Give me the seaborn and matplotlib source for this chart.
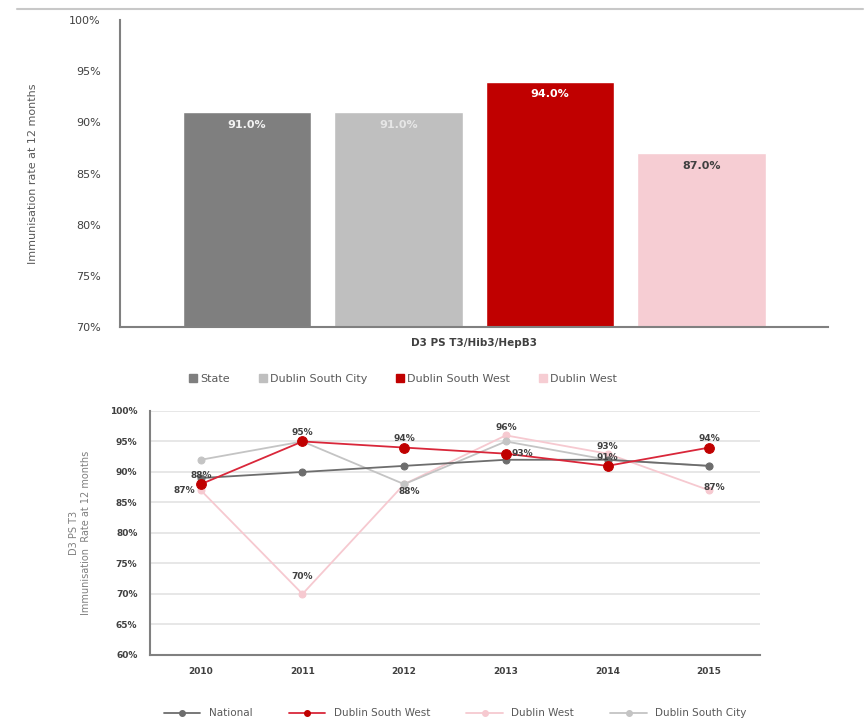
import numpy as np
import pandas as pd
import seaborn as sns
from matplotlib import pyplot as plt
from matplotlib.lines import Line2D
from matplotlib.patches import Patch

# top chart data
bar_groups = ['State', 'Dublin South City', 'Dublin South West', 'Dublin West']
bar_values = [91.0, 91.0, 94.0, 87.0]
bar_colors = ['#7f7f7f', '#bfbfbf', '#c00000', '#f6cdd3']
bar_text_colors = ['#f2f2f2', '#e6e6e6', '#ffffff', '#404040']

# bottom chart data
years = [2010, 2011, 2012, 2013, 2014, 2015]
national = [89, 90, 91, 92, 92, 91]
dublin_south_west = [88, 95, 94, 93, 91, 94]
dublin_west = [87, 70, 88, 96, 93, 87]
dublin_south_city = [92, 95, 88, 95, 92, 91]

sns.set_theme(style='white')
plt.rcParams['font.family'] = ['DejaVu Sans']

fig = plt.figure(figsize=(8.67, 7.22), dpi=100)
fig.add_artist(Line2D([0.02, 0.995], [0.988, 0.988], color='#c8c8c8', lw=1.5))

# ---- bar chart ----
ax1 = fig.add_axes([0.1384, 0.547, 0.817, 0.425])
bar_df = pd.DataFrame({'group': bar_groups, 'value': bar_values})
sns.barplot(data=bar_df, x='group', y='value', hue='group', palette=bar_colors,
            width=0.85, legend=False, ax=ax1, saturation=1)
ax1.set_ylim(70, 100)
ax1.set_xlim(-0.84, 3.84)
ax1.set_yticks(np.arange(70, 101, 5))
ax1.set_yticklabels([f'{v}%' for v in range(70, 101, 5)], fontsize=8, color='#404040')
ax1.set_xticks([])
ax1.set_xlabel('D3 PS T3/Hib3/HepB3', fontsize=7.5, fontweight='bold', color='#404040', labelpad=8)
ax1.set_ylabel('Immunisation rate at 12 months', fontsize=8, color='#595959', labelpad=22)
for i, v in enumerate(bar_values):
    ax1.text(i, v - 0.75, f'{v:.1f}%', ha='center', va='top', fontsize=8,
             fontweight='bold', color=bar_text_colors[i])
for s in ['top', 'right']:
    ax1.spines[s].set_visible(False)
for s in ['left', 'bottom']:
    ax1.spines[s].set_color('#808080')
    ax1.spines[s].set_linewidth(1.5)
ax1.tick_params(axis='y', length=0, pad=14)
handles = [Patch(color=c, label=g) for g, c in zip(bar_groups, bar_colors)]
fig.legend(handles=handles, loc='center', bbox_to_anchor=(0.465, 0.475), ncol=4,
           frameon=False, fontsize=8, handlelength=0.7, handleheight=0.7,
           handletextpad=0.3, columnspacing=2.6, labelcolor='#595959')

# ---- line chart ----
ax2 = fig.add_axes([0.173, 0.0928, 0.7036, 0.338])
line_df = pd.DataFrame({'year': years * 4,
                        'value': national + dublin_south_west + dublin_west + dublin_south_city,
                        'series': ['National'] * 6 + ['Dublin South West'] * 6
                                  + ['Dublin West'] * 6 + ['Dublin South City'] * 6})
line_colors = {'National': '#6d6d6d', 'Dublin South West': '#d9273a',
               'Dublin West': '#f6c9d0', 'Dublin South City': '#c4c4c4'}
marker_colors = {'National': '#6d6d6d', 'Dublin South West': '#c00000',
                 'Dublin West': '#f6c9d0', 'Dublin South City': '#c4c4c4'}
marker_sizes = {'National': 5, 'Dublin South West': 7, 'Dublin West': 5, 'Dublin South City': 5}
order = ['Dublin West', 'Dublin South City', 'National', 'Dublin South West']
for name in order:
    sub = line_df[line_df['series'] == name]
    sns.lineplot(data=sub, x='year', y='value', color=line_colors[name], marker='o',
                 markersize=marker_sizes[name], markerfacecolor=marker_colors[name],
                 markeredgecolor=marker_colors[name], linewidth=1.3, ax=ax2)

label_kw = dict(fontsize=6.5, fontweight='bold', color='#404040')
for x, v in zip(years, dublin_south_west):
    if x == 2013:
        ax2.text(x + 0.06, v, f'{v}%', ha='left', va='center', **label_kw)
    else:
        ax2.text(x, v + 0.7, f'{v}%', ha='center', va='bottom', **label_kw)
for x, v in zip(years, dublin_west):
    if x == 2010:
        ax2.text(x - 0.06, v, f'{v}%', ha='right', va='center', **label_kw)
    elif x == 2011:
        ax2.text(x, v + 2.2, f'{v}%', ha='center', va='bottom', **label_kw)
    elif x == 2012:
        ax2.text(x + 0.05, v - 0.4, f'{v}%', ha='center', va='top', **label_kw)
    elif x == 2015:
        ax2.text(x + 0.05, v + 0.4, f'{v}%', ha='center', va='center', **label_kw)
    else:
        ax2.text(x, v + 0.5, f'{v}%', ha='center', va='bottom', **label_kw)

ax2.set_ylim(60, 100)
ax2.set_xlim(2009.5, 2015.5)
ax2.set_yticks(np.arange(60, 101, 5))
ax2.set_yticklabels([f'{v}%' for v in range(60, 101, 5)], fontsize=6.5,
                    fontweight='bold', color='#404040')
ax2.set_xticks(years)
ax2.set_xticklabels([str(y) for y in years], fontsize=6.5, fontweight='bold', color='#404040')
ax2.set_xlabel('')
ax2.set_ylabel('D3 PS T3\nImmunisation  Rate at 12 months', fontsize=7, color='#7f7f7f', labelpad=14)
ax2.yaxis.grid(True, color='#e3e3e3', linewidth=1.2)
ax2.set_axisbelow(True)
for s in ['top', 'right']:
    ax2.spines[s].set_visible(False)
for s in ['left', 'bottom']:
    ax2.spines[s].set_color('#808080')
    ax2.spines[s].set_linewidth(1.5)
ax2.tick_params(axis='both', length=0, pad=9)

line_handles = [Line2D([0], [0], color=line_colors[n], marker='o', markersize=4,
                       markerfacecolor=marker_colors[n], markeredgecolor=marker_colors[n],
                       lw=1.3, label=n)
                for n in ['National', 'Dublin South West', 'Dublin West', 'Dublin South City']]
fig.legend(handles=line_handles, loc='center', bbox_to_anchor=(0.525, 0.012), ncol=4,
           frameon=False, fontsize=7.5, handlelength=3.5, handletextpad=0.8,
           columnspacing=3.5, labelcolor='#595959')

fig.savefig('out.png', dpi=100)
